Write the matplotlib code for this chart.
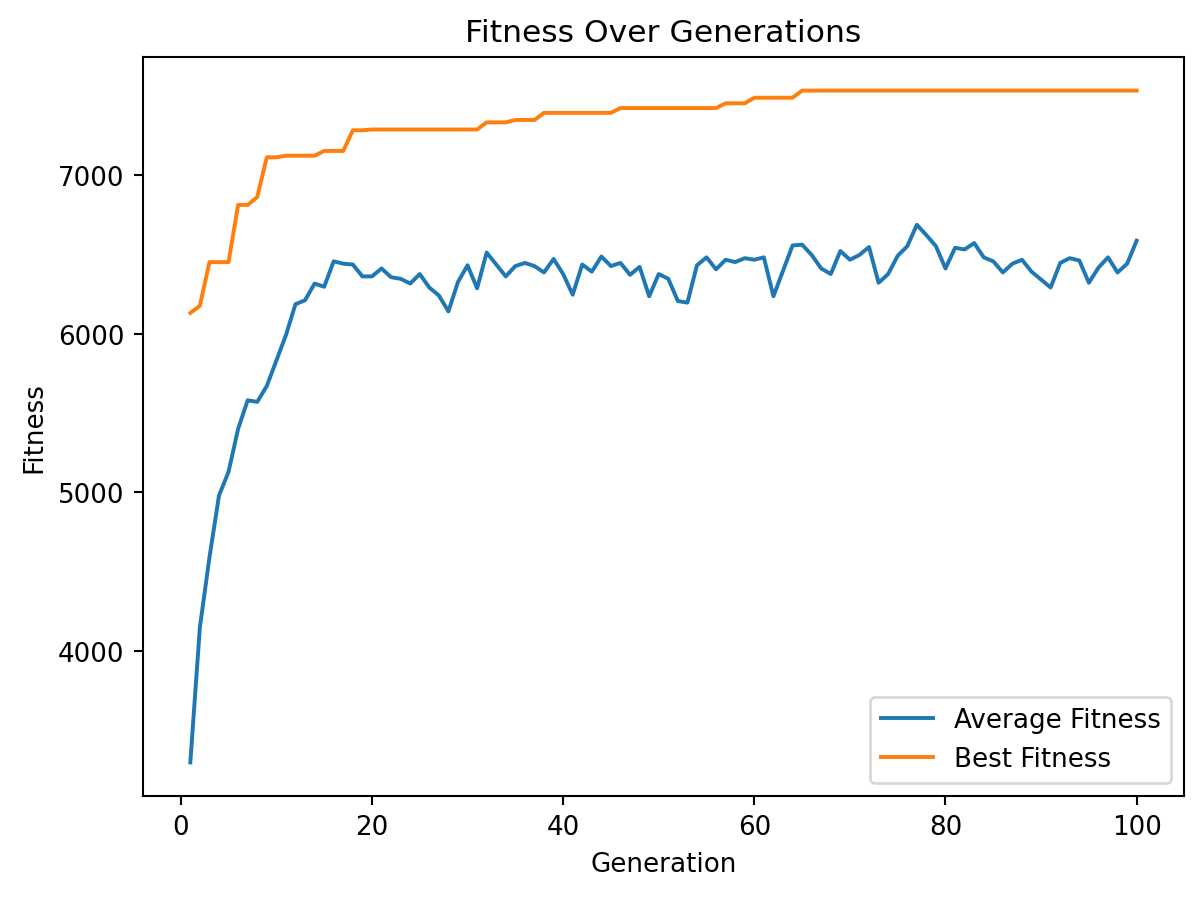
import matplotlib
matplotlib.use("Agg")
import matplotlib.pyplot as plt

generations = list(range(1, 101))

avg_fitness = [
    3300, 4150, 4590, 4980, 5130, 5400, 5580, 5570, 5670, 5830,
    5990, 6185, 6210, 6315, 6295, 6455, 6440, 6435, 6360, 6360,
    6410, 6355, 6345, 6315, 6375, 6290, 6240, 6140, 6325, 6430,
    6285, 6510, 6435, 6360, 6425, 6445, 6425, 6385, 6470, 6375,
    6245, 6435, 6390, 6485, 6425, 6445, 6370, 6420, 6235, 6375,
    6345, 6205, 6195, 6430, 6480, 6405, 6465, 6450, 6475, 6465,
    6480, 6235, 6395, 6555, 6560, 6495, 6410, 6375, 6520, 6465,
    6495, 6545, 6320, 6375, 6490, 6550, 6685, 6620, 6550, 6410,
    6540, 6530, 6570, 6480, 6455, 6385, 6440, 6465, 6390, 6340,
    6290, 6445, 6475, 6460, 6320, 6415, 6480, 6385, 6440, 6585,
]

best_fitness = (
    [6130, 6175, 6450, 6450, 6450, 6810, 6810, 6860, 7110, 7110]
    + [7120] * 4 + [7150] * 3 + [7280] * 2 + [7285] * 12
    + [7330] * 3 + [7345] * 3 + [7390] * 8 + [7420] * 11
    + [7450] * 3 + [7485] * 5 + [7530] * 36
)

fig, ax = plt.subplots(figsize=(1203 / 188, 898 / 188), dpi=188)
ax.plot(generations, avg_fitness, label="Average Fitness")
ax.plot(generations, best_fitness, label="Best Fitness")
ax.set_xlabel("Generation")
ax.set_ylabel("Fitness")
ax.set_title("Fitness Over Generations")
ax.legend(loc="lower right")
fig.subplots_adjust(left=143 / 1203, right=1184 / 1203,
                    top=1 - 58 / 898, bottom=1 - 797 / 898)
plt.savefig("out.png", dpi=188)
